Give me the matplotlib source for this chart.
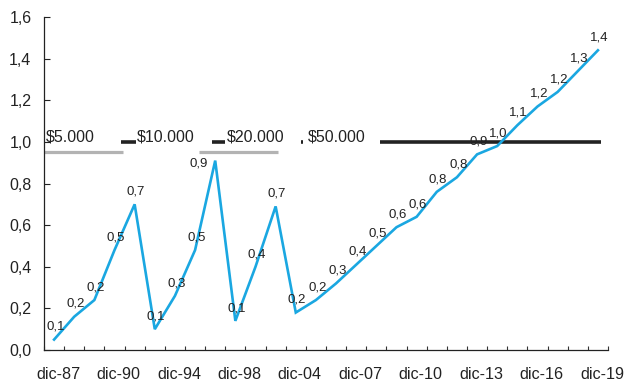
import numpy as np
import matplotlib.pyplot as plt
from matplotlib.ticker import FuncFormatter, FixedLocator
from matplotlib.transforms import ScaledTranslation

plt.rcParams['font.family'] = ['Liberation Sans', 'DejaVu Sans']

# serie del billete (28 observaciones)
valores = [0.05, 0.16, 0.24, 0.48, 0.70, 0.10, 0.26, 0.48, 0.91, 0.14,
           0.40, 0.69, 0.18, 0.24, 0.32, 0.41, 0.50, 0.59, 0.64, 0.76,
           0.83, 0.94, 0.98, 1.08, 1.17, 1.24, 1.34, 1.44]
etiquetas_x = ['dic-87', 'dic-90', 'dic-94', 'dic-98', 'dic-04',
               'dic-07', 'dic-10', 'dic-13', 'dic-16', 'dic-19']
billetes = ['$5.000', '$10.000', '$20.000', '$50.000']

azul = '#1aa7e1'
gris = '#b3b3b3'
negro = '#222222'

fig = plt.figure(figsize=(6.35, 3.83), dpi=100)
ax = fig.add_axes([44/635, 33/383, 564/635, 333/383])

x = np.arange(len(valores))
ax.plot(x, valores, color=azul, lw=1.9, solid_joinstyle='miter', zorder=3)

for xi, v in zip(x, valores):
    off = (1, 7)
    if xi == 8:
        # el pico de 0,9 queda pegado a la línea gris: etiqueta a la izquierda
        off = (-12, -4)
    ax.annotate(f'{v:.1f}'.replace('.', ','), (xi, v), xytext=off,
                textcoords='offset points', ha='center', va='baseline',
                fontsize=9.5, color='#222222', zorder=4)

# tramos de referencia de cada billete
ax.plot([-0.5, 3.42], [0.952, 0.952], color=gris, lw=2.3, solid_capstyle='butt')
ax.plot([7.18, 11.11], [0.952, 0.952], color=gris, lw=2.3, solid_capstyle='butt')
ax.plot([3.33, 4.06], [1.0, 1.0], color=negro, lw=2.6, solid_capstyle='butt')
ax.plot([7.85, 8.51], [1.0, 1.0], color=negro, lw=2.6, solid_capstyle='butt')
ax.plot([12.28, 12.38], [1.0, 1.0], color=negro, lw=2.6, solid_capstyle='butt')
ax.plot([16.18, 27.13], [1.0, 1.0], color=negro, lw=2.6, solid_capstyle='butt', zorder=2)

for xt, txt in zip([-0.43, 4.11, 8.56, 12.59], billetes):
    ax.text(xt, 1.0, txt, ha='left', va='baseline', fontsize=11.5, color='#222222')

ax.set_xlim(-0.5, len(valores) - 0.5)
ax.set_ylim(0, 1.6)

ax.xaxis.set_major_locator(FixedLocator(np.arange(0, len(valores), 3)))
ax.set_xticklabels(etiquetas_x)
ax.xaxis.set_minor_locator(FixedLocator(np.arange(-0.5, len(valores), 1)))
ax.tick_params(axis='x', which='major', length=0, pad=12, labelsize=11.6, colors='#222222')
ax.tick_params(axis='x', which='minor', length=3, width=0.8, direction='in', color='#333333')
desplaza = ScaledTranslation(4/100, 0, fig.dpi_scale_trans)
for lab in ax.get_xticklabels():
    lab.set_transform(lab.get_transform() + desplaza)

ax.set_yticks(np.arange(0, 1.61, 0.2))
ax.yaxis.set_major_formatter(FuncFormatter(lambda v, p: f'{v:.1f}'.replace('.', ',')))
ax.tick_params(axis='y', length=4, width=0.8, direction='in', pad=9, labelsize=11.5,
               colors='#222222')

for s in ['top', 'right']:
    ax.spines[s].set_visible(False)
for s in ['left', 'bottom']:
    ax.spines[s].set_linewidth(0.9)
    ax.spines[s].set_color('#222222')

fig.savefig('out.png', dpi=100)
